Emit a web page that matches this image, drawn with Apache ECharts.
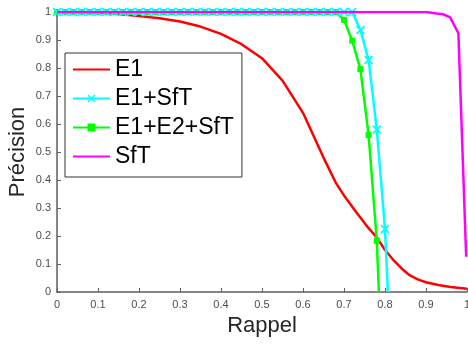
<!DOCTYPE html>
<html>
<head>
<meta charset="utf-8">
<script src="https://cdn.jsdelivr.net/npm/echarts@6/dist/echarts.min.js"></script>
<style>
  html, body { margin: 0; padding: 0; background: #fff; }
  #main { width: 468px; height: 344px; }
</style>
</head>
<body>
<div id="main"></div>
<script>
var chartDom = document.getElementById('main')
var myChart = echarts.init(chartDom)
var option

// E1 (red, no markers)
const e1Recall = [0, 0.05, 0.1, 0.15, 0.2, 0.25, 0.3, 0.35, 0.4, 0.45, 0.5, 0.55, 0.6, 0.65, 0.68, 0.7, 0.73, 0.76, 0.78, 0.8, 0.82, 0.84, 0.86, 0.88, 0.9, 0.93, 0.96, 1.0]
const e1Prec = [1, 1, 0.998, 0.993, 0.986, 0.978, 0.966, 0.948, 0.922, 0.885, 0.835, 0.755, 0.64, 0.48, 0.39, 0.345, 0.285, 0.228, 0.195, 0.15, 0.115, 0.085, 0.06, 0.045, 0.035, 0.025, 0.018, 0.012]

// E1+SfT (cyan, x markers)
const e1sftRecall = [0, 0.02, 0.04, 0.06, 0.08, 0.1, 0.12, 0.14, 0.16, 0.18, 0.2, 0.22, 0.24, 0.26, 0.28, 0.3, 0.32, 0.34, 0.36, 0.38, 0.4, 0.42, 0.44, 0.46, 0.48, 0.5, 0.52, 0.54, 0.56, 0.58, 0.6, 0.62, 0.64, 0.66, 0.68, 0.7, 0.72, 0.74, 0.76, 0.78, 0.8, 0.807]
const e1sftPrec = [1, 1, 1, 1, 1, 1, 1, 1, 1, 1, 1, 1, 1, 1, 1, 1, 1, 1, 1, 1, 1, 1, 1, 1, 1, 1, 1, 1, 1, 1, 1, 1, 1, 1, 1, 1, 1, 0.936, 0.829, 0.58, 0.225, 0]

// E1+E2+SfT (green, square markers)
const e1e2sftRecall = [0, 0.02, 0.04, 0.06, 0.08, 0.1, 0.12, 0.14, 0.16, 0.18, 0.2, 0.22, 0.24, 0.26, 0.28, 0.3, 0.32, 0.34, 0.36, 0.38, 0.4, 0.42, 0.44, 0.46, 0.48, 0.5, 0.52, 0.54, 0.56, 0.58, 0.6, 0.62, 0.64, 0.66, 0.68, 0.7, 0.72, 0.74, 0.76, 0.78, 0.785]
const e1e2sftPrec = [1, 1, 1, 1, 1, 1, 1, 1, 1, 1, 1, 1, 1, 1, 1, 1, 1, 1, 1, 1, 1, 1, 1, 1, 1, 1, 1, 1, 1, 1, 1, 1, 1, 1, 1, 0.972, 0.898, 0.796, 0.561, 0.183, 0]

// SfT (magenta, no markers)
const sftRecall = [0, 0.9, 0.926, 0.942, 0.959, 0.979, 0.998]
const sftPrec = [1, 1, 0.995, 0.992, 0.981, 0.924, 0.126]

const names = ['E1', 'E1+SfT', 'E1+E2+SfT', 'SfT']
const colors = ['#ff0000', '#00ffff', '#00ff00', '#ff00ff']

const font = 'Liberation Sans, Arial, sans-serif'
const xMark = 'path://M0,1.4 L1.4,0 L5,3.6 L8.6,0 L10,1.4 L6.4,5 L10,8.6 L8.6,10 L5,6.4 L1.4,10 L0,8.6 L3.6,5 Z'

function pairs(xs, ys, lastNoSymbol) {
  return xs.map((x, i) => {
    if (lastNoSymbol && i === xs.length - 1) return { value: [x, ys[i]], symbol: 'none' }
    return [x, ys[i]]
  })
}

const axisCommon = {
  type: 'value',
  min: 0,
  max: 1,
  interval: 0.1,
  nameLocation: 'middle',
  nameMoveOverlap: false,
  nameTextStyle: { fontFamily: font, fontSize: 22, color: '#262626' },
  axisLine: { show: true, lineStyle: { color: '#5e5e5e', width: 1.5 } },
  axisTick: { show: true, inside: true, length: 4, lineStyle: { color: '#5e5e5e', width: 1 } },
  axisLabel: { fontFamily: font, fontSize: 11, color: '#4d4d4d' },
  splitLine: { show: false }
}

option = {
  animation: false,
  backgroundColor: '#ffffff',
  grid: { left: 57, right: 1, top: 12, bottom: 52, containLabel: false, outerBoundsMode: 'none' },
  xAxis: Object.assign({}, axisCommon, {
    name: 'Rappel',
    nameGap: 23,
    axisLabel: Object.assign({}, axisCommon.axisLabel, { margin: 7 })
  }),
  yAxis: Object.assign({}, axisCommon, {
    name: 'Précision',
    nameGap: 28,
    axisLabel: Object.assign({}, axisCommon.axisLabel, { margin: 6 })
  }),
  legend: {
    orient: 'vertical',
    left: 65,
    top: 53,
    padding: [5, 8, 9, 7],
    itemGap: 6,
    itemWidth: 37,
    itemHeight: 10,
    backgroundColor: '#ffffff',
    borderColor: '#333333',
    borderWidth: 1,
    textStyle: { fontFamily: font, fontSize: 23, color: '#000', lineHeight: 23 },
    data: [
      { name: names[0], itemStyle: { opacity: 0 } },
      { name: names[1] },
      { name: names[2] },
      { name: names[3], itemStyle: { opacity: 0 } }
    ]
  },
  series: [
    {
      name: names[0],
      type: 'line',
      data: pairs(e1Recall, e1Prec),
      symbol: 'none',
      lineStyle: { color: colors[0], width: 2.5 },
      itemStyle: { color: colors[0] },
      z: 2
    },
    {
      name: names[1],
      type: 'line',
      data: pairs(e1sftRecall, e1sftPrec, true),
      symbol: xMark,
      symbolSize: 9,
      showAllSymbol: true,
      lineStyle: { color: colors[1], width: 2.5 },
      itemStyle: { color: colors[1] },
      z: 4
    },
    {
      name: names[2],
      type: 'line',
      data: pairs(e1e2sftRecall, e1e2sftPrec, true),
      symbol: 'rect',
      symbolSize: 6,
      showAllSymbol: true,
      lineStyle: { color: colors[2], width: 2.5 },
      itemStyle: { color: colors[2] },
      z: 3
    },
    {
      name: names[3],
      type: 'line',
      data: pairs(sftRecall, sftPrec),
      symbol: 'none',
      lineStyle: { color: colors[3], width: 2.5 },
      itemStyle: { color: colors[3] },
      z: 5
    }
  ]
}

option && myChart.setOption(option)
</script>
</body>
</html>
